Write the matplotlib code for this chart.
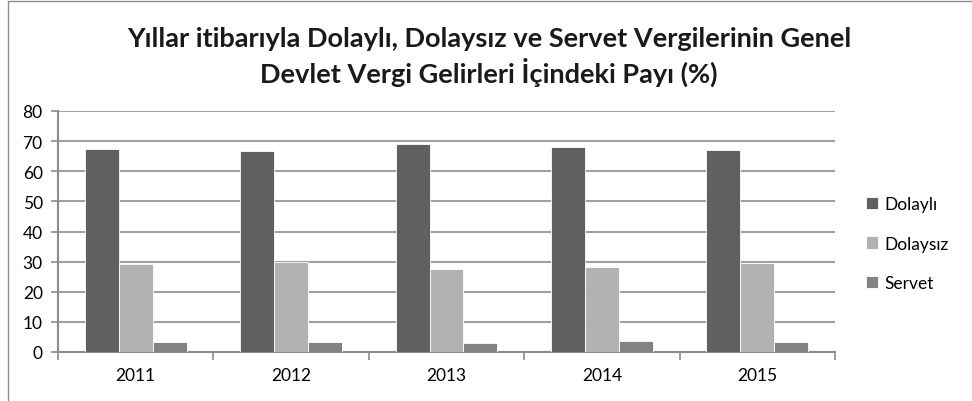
import numpy as np
import matplotlib.pyplot as plt
from matplotlib.patches import Rectangle

plt.rcParams['font.family'] = ['Lato', 'DejaVu Sans']

years = ['2011', '2012', '2013', '2014', '2015']
dolayli = [67.3, 66.7, 69.1, 68.1, 67.1]
dolaysiz = [29.2, 29.9, 27.7, 28.3, 29.6]
servet = [3.4, 3.3, 3.1, 3.6, 3.3]

series = [('Dolaylı', dolayli, '#606060'),
          ('Dolaysız', dolaysiz, '#b2b2b2'),
          ('Servet', servet, '#828282')]

fig = plt.figure(figsize=(9.72, 4.02), dpi=100)
ax = fig.add_axes([58/972, 49/402, 777/972, 241/402])

# outer chart frame
fig.patches.append(Rectangle((8/972, -0.1), 1.2, (400/402) + 0.1, transform=fig.transFigure,
                             fill=False, edgecolor='#8c8c8c', linewidth=1.0))

x = np.arange(len(years))
w = 0.218
for i, (name, vals, col) in enumerate(series):
    ax.bar(x + (i - 1) * w, vals, w, color=col, edgecolor='white', linewidth=0.6,
           label=name, zorder=3)

ax.set_xlim(-0.5, len(years) - 0.5)
ax.set_ylim(0, 80)
ax.set_yticks(range(0, 81, 10))
ax.yaxis.grid(True, color='#a0a0a0', linewidth=1.5, zorder=0)
ax.set_axisbelow(True)

ax.set_xticks(np.arange(-0.5, len(years)), labels=[])
ax.set_xticks(x, labels=years, minor=True)
ax.tick_params(axis='x', which='major', length=6, color='#8c8c8c', width=1.2)
ax.tick_params(axis='x', which='minor', length=0, labelsize=12.5, pad=11)
ax.tick_params(axis='y', length=5, color='#8c8c8c', width=1.2, labelsize=12.5, pad=6)

for s in ['top', 'right']:
    ax.spines[s].set_visible(False)
for s in ['left', 'bottom']:
    ax.spines[s].set_color('#8c8c8c')
    ax.spines[s].set_linewidth(1.5)

fig.text(489/972, 1 - 57/402, 'Yıllar itibarıyla Dolaylı, Dolaysız ve Servet Vergilerinin Genel\n'
         'Devlet Vergi Gelirleri İçindeki Payı (%)', ha='center', va='center',
         fontsize=19.5, fontweight='bold', linespacing=1.25, color='#1a1a1a')

ax.legend(loc='center left', bbox_to_anchor=(1.02, 0.45), frameon=False, fontsize=12.5,
          handlelength=0.7, handleheight=0.7, handletextpad=0.35, labelspacing=1.35)

fig.savefig('out.png', dpi=100)
